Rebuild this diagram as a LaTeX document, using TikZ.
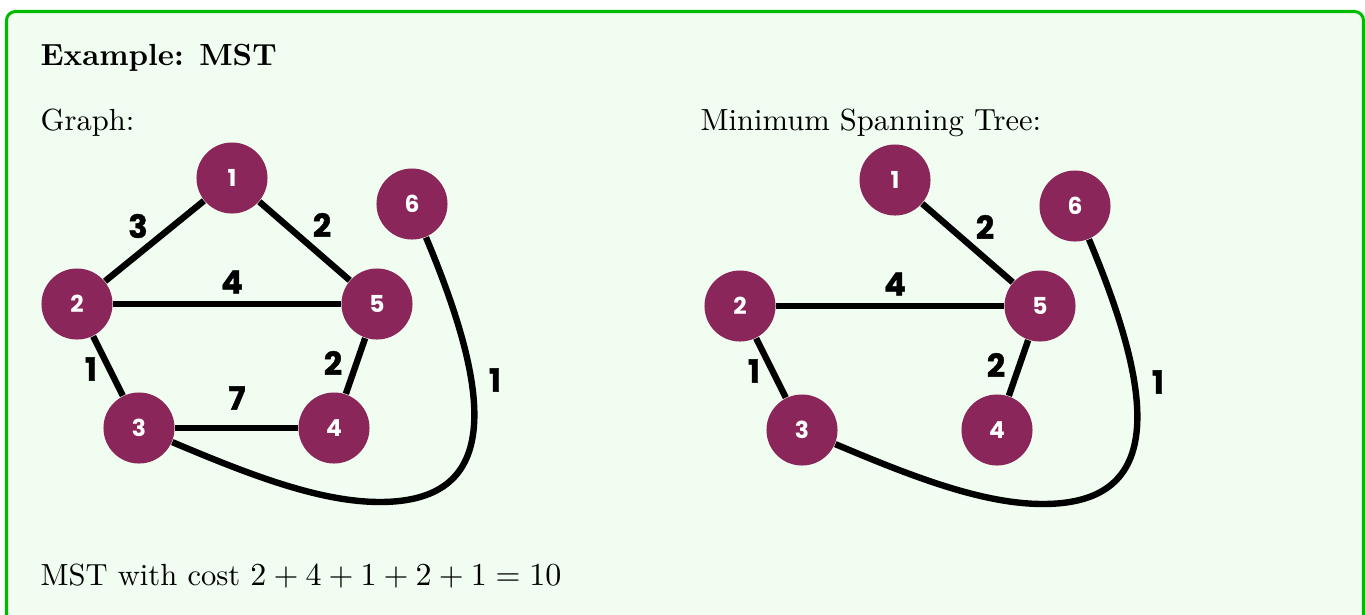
\documentclass[tikz,border=0pt]{standalone}
\usepackage{fontspec}
\newfontfamily\poppins{Poppins}
\newfontfamily\weightfont{Poppins}[FakeBold=1.2]
\definecolor{vertexcol}{RGB}{139,38,90}
\definecolor{framecol}{RGB}{0,187,0}
\definecolor{backcol}{RGB}{240,253,240}
\begin{document}
\begin{tikzpicture}[x=0.3125pt, y=-0.3125pt,
		vertex/.style={circle, fill=vertexcol, inner sep=0pt, minimum size=22.2pt,
			text=white, font=\poppins\bfseries\fontsize{7.3}{9}\selectfont},
		edge/.style={line width=2pt},
		weight/.style={inner sep=0pt, font=\weightfont\bfseries\fontsize{10}{12}\selectfont},
		txt/.style={anchor=base west, inner sep=0pt, font=\fontsize{9.55}{12}\selectfont}]
			\useasboundingbox (0,0) rectangle (1365,614);
			\clip (0,0) rectangle (1365,614);
			
			% Box
			\draw[framecol, fill=backcol, line width=0.95pt, rounded corners=2.8pt]
				(6.5,11.5) rectangle (1363.5,680);
			
			\node[txt] (title) at (40,65) {\bfseries Example: MST};
			\node[txt] (glabel) at (40,130) {Graph:};
			\node[txt] (tlabel) at (700,130) {Minimum Spanning Tree:};
			\node[txt] (cost) at (40,585) {MST with cost $2+4+1+2+1=10$};
			
			% Graph (left)
			\node[vertex] (g1) at (232,178) {1};
			\node[vertex] (g2) at (77,304) {2};
			\node[vertex] (g3) at (139,428) {3};
			\node[vertex] (g4) at (334,428) {4};
			\node[vertex] (g5) at (377,304) {5};
			\node[vertex] (g6) at (412,204) {6};
			\coordinate (gbend) at (380,502);
			\draw[edge] (g1) -- (g2);
			\draw[edge] (g1) -- (g5);
			\draw[edge] (g2) -- (g5);
			\draw[edge] (g2) -- (g3);
			\draw[edge] (g5) -- (g4);
			\draw[edge] (g3) -- (g4);
			\draw[edge] (g3) .. controls (250,475) and (320,502) .. (gbend)
				.. controls (505,502) and (490,390) .. (g6);
			\node[weight] (gw12) at (138,226) {3};
			\node[weight] (gw15) at (322,225) {2};
			\node[weight] (gw25) at (232,282) {4};
			\node[weight] (gw23) at (91,369) {1};
			\node[weight] (gw54) at (333,363) {2};
			\node[weight] (gw34) at (237,398) {7};
			\node[weight] (gw36) at (495,380) {1};
			
			% Minimum spanning tree (right)
			\begin{scope}[shift={(663,2)}]
				\node[vertex] (t1) at (232,178) {1};
				\node[vertex] (t2) at (77,304) {2};
				\node[vertex] (t3) at (139,428) {3};
				\node[vertex] (t4) at (334,428) {4};
				\node[vertex] (t5) at (377,304) {5};
				\node[vertex] (t6) at (412,204) {6};
				\coordinate (tbend) at (380,502);
				\draw[edge] (t1) -- (t5);
				\draw[edge] (t2) -- (t5);
				\draw[edge] (t2) -- (t3);
				\draw[edge] (t5) -- (t4);
				\draw[edge] (t3) .. controls (250,475) and (320,502) .. (tbend)
					.. controls (505,502) and (490,390) .. (t6);
				\node[weight] (tw15) at (322,225) {2};
				\node[weight] (tw25) at (232,282) {4};
				\node[weight] (tw23) at (91,369) {1};
				\node[weight] (tw54) at (333,363) {2};
				\node[weight] (tw36) at (495,380) {1};
			\end{scope}
		\end{tikzpicture}
\end{document}
